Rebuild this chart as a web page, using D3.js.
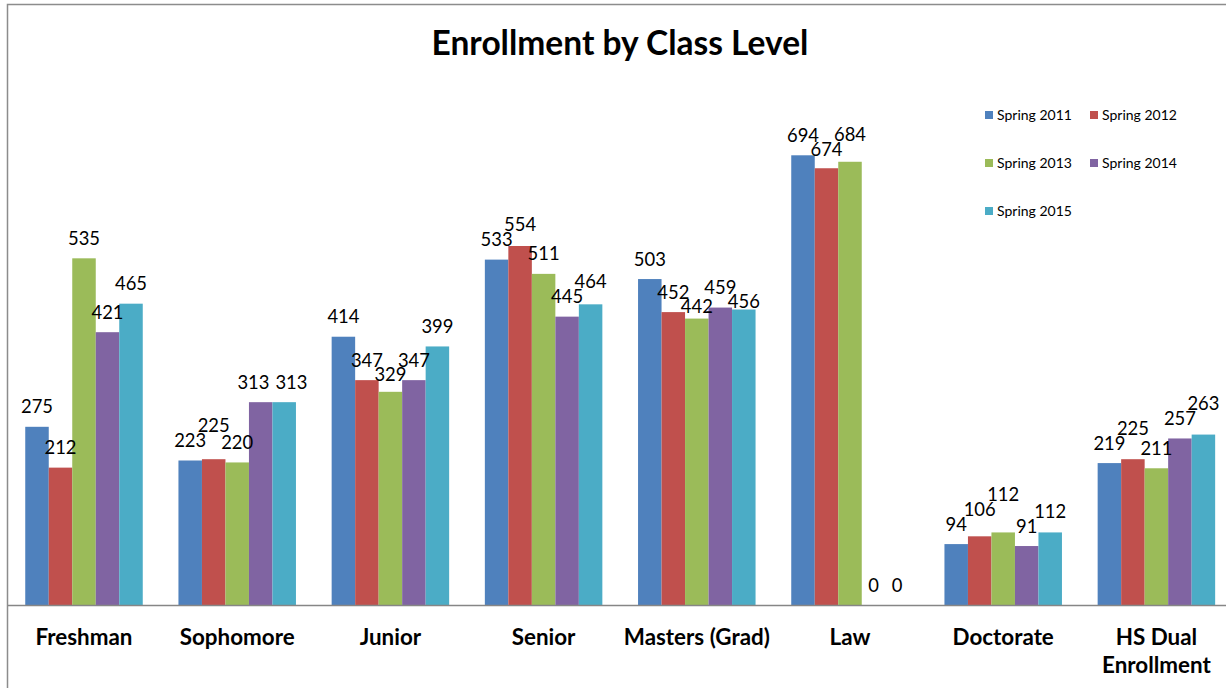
<!DOCTYPE html>
<html lang="en">
<head>
    <meta charset="UTF-8">
    <script src="https://cdn.jsdelivr.net/npm/d3@7"></script>
    <title>Enrollment by Class Level</title>
    <style>
        body { margin: 0; background: #fff; }
        text { font-family: Lato, "Open Sans", sans-serif; fill: #000; }
    </style>
</head>
<body>
</body>
<script>

    // categories and series
    let categories = ["Freshman", "Sophomore", "Junior", "Senior", "Masters (Grad)", "Law", "Doctorate", "HS Dual Enrollment"];
    let seriesNames = ["Spring 2011", "Spring 2012", "Spring 2013", "Spring 2014", "Spring 2015"];
    let colors = ["#4f81bd", "#c0504d", "#9bbb59", "#8064a2", "#4bacc6"];

    let spring2011 = [275, 223, 414, 533, 503, 694, 94, 219];
    let spring2012 = [212, 225, 347, 554, 452, 674, 106, 225];
    let spring2013 = [535, 220, 329, 511, 442, 684, 112, 211];
    let spring2014 = [421, 313, 347, 445, 459, 0, 91, 257];
    let spring2015 = [465, 313, 399, 464, 456, 0, 112, 263];

    let values = [spring2011, spring2012, spring2013, spring2014, spring2015];

    let width = 1226,
        height = 688,
        baseY = 605,
        left = 7.4,
        step = 153.2;

    let x = d3.scaleBand()
        .domain(categories)
        .range([left, left + step * categories.length])
        .paddingInner(0.233)
        .paddingOuter(0.1165);

    let xs = d3.scaleBand()
        .domain(seriesNames)
        .range([0, x.bandwidth()]);

    let y = d3.scaleLinear()
        .domain([0, 800])
        .range([baseY, baseY - 800 * 0.648]);

    let svg = d3.select("body")
        .append("svg")
        .attr("width", width)
        .attr("height", height);

    // frame
    svg.append("path")
        .attr("d", "M7.5," + height + "V4.5H" + width)
        .attr("fill", "none")
        .attr("stroke", "#8c8c8c")
        .attr("stroke-width", 1.5);

    svg.append("text")
        .attr("x", 620)
        .attr("y", 55)
        .attr("text-anchor", "middle")
        .style("font-size", "33.5px")
        .style("font-weight", "bold")
        .text("Enrollment by Class Level");

    // bars
    let rows = [];
    categories.forEach(function (c, i) {
        seriesNames.forEach(function (s, j) {
            rows.push({cat: c, ser: s, j: j, v: values[j][i]});
        });
    });

    svg.append("g")
        .selectAll("rect")
        .data(rows)
        .enter()
        .append("rect")
        .attr("x", d => x(d.cat) + xs(d.ser))
        .attr("y", d => y(d.v))
        .attr("width", xs.bandwidth())
        .attr("height", d => y(0) - y(d.v))
        .attr("fill", d => colors[d.j]);

    // axis
    let axis = svg.append("g")
        .attr("transform", "translate(0," + baseY + ")")
        .call(d3.axisBottom(x).tickSize(0).tickSizeOuter(0));

    axis.select(".domain")
        .attr("stroke", "#868686")
        .attr("stroke-width", 1.5);

    axis.selectAll(".tick text")
        .attr("y", 40)
        .attr("dy", 0)
        .style("font-size", "22.4px")
        .style("font-weight", "bold")
        .style("font-family", "Lato, sans-serif")
        .attr("fill", "#000")
        .each(function (d) {
            let t = d3.select(this);
            if (this.getComputedTextLength() > step + 10) {
                let words = d.split(" ");
                t.text(null);
                t.append("tspan").attr("x", 0).text(words.slice(0, 2).join(" "));
                t.append("tspan").attr("x", 0).attr("dy", 28).text(words.slice(2).join(" "));
            }
        });

    // data labels; a label that hits the previous one in its group is moved
    // above it (or below, if its bar is lower), or sideways when level with it
    let labels = svg.append("g")
        .selectAll("text")
        .data(rows)
        .enter()
        .append("text")
        .attr("text-anchor", "middle")
        .style("font-size", "18.4px")
        .text(d => d.v);

    let th = 14;
    categories.forEach(function (c) {
        let p = null;
        labels.filter(d => d.cat === c).each(function (d) {
            let w = this.getComputedTextLength();
            let cx = x(d.cat) + xs(d.ser) + xs.bandwidth() / 2;
            let nat = y(d.v) - 13.5;
            let b = nat;
            if (p && Math.abs(p.cx - cx) < (p.w + w) / 2 && Math.abs(b - p.b) < th) {
                if (Math.abs(nat - p.nat) < 0.5) {
                    let shift = (p.w + w) / 2 + 6 - (cx - p.cx);
                    p.cx -= shift / 2;
                    d3.select(p.node).attr("x", p.cx);
                    cx += shift / 2;
                } else if (nat > p.nat) {
                    b = p.b + th;
                } else {
                    b = p.b - th - 1;
                }
            }
            p = {cx: cx, w: w, b: b, nat: nat, node: this};
            d3.select(this).attr("x", cx).attr("y", b);
        });
    });

    // legend
    let legend = svg.append("g")
        .selectAll("g")
        .data(seriesNames)
        .enter()
        .append("g")
        .attr("transform", (d, i) => "translate(" + (985 + (i % 2) * 105) + "," + (115 + Math.floor(i / 2) * 48) + ")");

    legend.append("rect")
        .attr("x", 0)
        .attr("y", -4)
        .attr("width", 8)
        .attr("height", 8)
        .attr("fill", (d, i) => colors[i]);

    legend.append("text")
        .attr("x", 12)
        .attr("y", 5)
        .style("font-size", "14px")
        .text(d => d);

</script>
</html>
